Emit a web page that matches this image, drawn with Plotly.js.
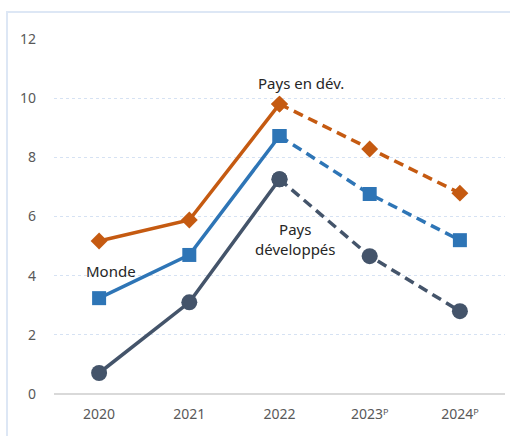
<!DOCTYPE html>
<html>
<head>
<meta charset="utf-8">
<script src="https://cdn.plot.ly/plotly-3.0.1.min.js"></script>
<style>
  html, body { margin: 0; padding: 0; background: #fff; }
  #frame { position: absolute; left: 6px; top: 11px; width: 504px; height: 425px;
           border-left: 2px solid #dde7f5; border-top: 2px solid #dde7f5; }
  #chart { position: absolute; left: 0; top: 0; width: 510px; height: 436px; }
</style>
</head>
<body>
<div id="frame"></div>
<div id="chart"></div>
<script>
  const years = ["2020", "2021", "2022", "2023ᴾ", "2024ᴾ"]
  const developing = [5.17, 5.88, 9.8, 8.28, 6.79]
  const world = [3.24, 4.7, 8.72, 6.76, 5.2]
  const developed = [0.71, 3.1, 7.26, 4.66, 2.8]

  const ORANGE = "#c55a11"
  const BLUE = "#2e75b6"
  const DARK = "#44546a"

  // solid for actuals (2020-2022), dashed for projections (2022-2024)
  const split = (name, vals, color, symbol, size) => [
    {x: years.slice(0, 3), y: vals.slice(0, 3), type: "scatter", mode: "lines+markers", name, showlegend: false,
      line: {color, width: 3.5}, marker: {color, symbol, size}},
    {x: years.slice(2), y: vals.slice(2), type: "scatter", mode: "lines+markers", name, showlegend: false,
      line: {color, width: 3.5, dash: "10px,6px"}, marker: {color, symbol, size}}
  ]

  const data = [
    ...split("Pays développés", developed, DARK, "circle", 16),
    ...split("Monde", world, BLUE, "square", 14),
    ...split("Pays en dév.", developing, ORANGE, "diamond", 13)
  ]

  const labelFont = {family: "Noto Sans, sans-serif", size: 15, color: "#262626"}

  Plotly.newPlot("chart", data, {
    width: 510, height: 436,
    margin: {l: 54, r: 5, t: 39, b: 42},
    paper_bgcolor: "rgba(0,0,0,0)",
    plot_bgcolor: "rgba(0,0,0,0)",
    font: {family: "Noto Sans, sans-serif", size: 14, color: "#595959"},
    xaxis: {type: "category", range: [-0.5, 4.5], showgrid: false, zeroline: false,
      showline: false, ticks: "", ticklabelstandoff: 10},
    yaxis: {range: [0, 12], dtick: 2, showgrid: true, gridcolor: "#d6e2f3", griddash: "dot", gridwidth: 1,
      zeroline: true, zerolinecolor: "#d9d9d9", zerolinewidth: 2, showline: false,
      ticks: "", ticklabelstandoff: 17},
    annotations: [
      {x: 2, y: 10.5, xref: "x", yref: "y", text: "Pays en dév.", showarrow: false, font: labelFont, xshift: 21},
      {x: 0, y: 4.15, xref: "x", yref: "y", text: "Monde", showarrow: false, font: labelFont, xshift: 12},
      {x: 2, y: 5.25, xref: "x", yref: "y", text: "Pays<br>développés", showarrow: false, font: labelFont, xshift: 16}
    ]
  }, {displayModeBar: false, staticPlot: true})
</script>
</body>
</html>
